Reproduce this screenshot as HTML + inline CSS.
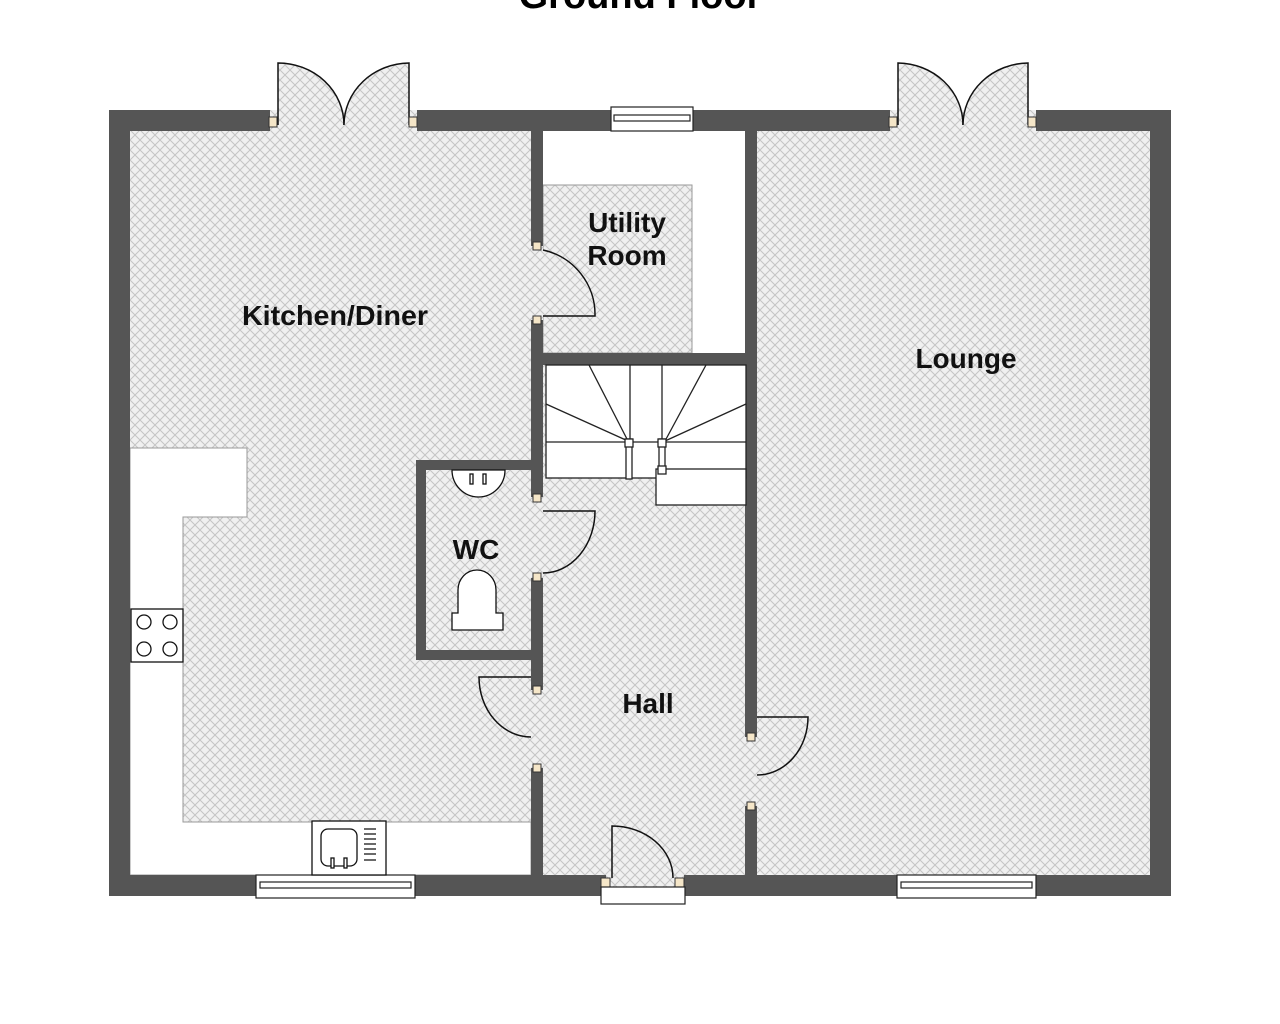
<!DOCTYPE html>
<html><head><style>html,body{margin:0;padding:0;background:#fff}svg{display:block}</style></head>
<body>
<svg width="1280" height="1024" viewBox="0 0 1280 1024" xmlns="http://www.w3.org/2000/svg" font-family="Liberation Sans, Arial, sans-serif">
<defs>
<pattern id="h" width="10" height="10" patternUnits="userSpaceOnUse">
<rect width="10" height="10" fill="#f0f0f0"/>
<path d="M0,0L10,10M10,0L0,10" stroke="#c4c4c4" stroke-width="1"/>
</pattern>
</defs>
<rect width="1280" height="1024" fill="#fff"/>
<text x="640" y="8" text-anchor="middle" font-size="38" font-weight="bold">Ground Floor</text>

<!-- floors -->
<rect x="130" y="131" width="401" height="744" fill="url(#h)"/>
<rect x="757" y="131" width="393" height="744" fill="url(#h)"/>
<rect x="543" y="365" width="202" height="510" fill="url(#h)"/>
<rect x="543" y="185" width="149" height="168" fill="url(#h)" stroke="#999" stroke-width="1"/>
<path d="M130,448H247V517H183V822H531V875H130Z" fill="#fff" stroke="#999" stroke-width="1"/>
<!-- walls -->
<g fill="#555">
<rect x="109" y="110" width="161" height="21"/>
<rect x="417" y="110" width="473" height="21"/>
<rect x="1036" y="110" width="135" height="21"/>
<rect x="109" y="110" width="21" height="786"/>
<rect x="1150" y="110" width="21" height="786"/>
<rect x="109" y="875" width="497" height="21"/>
<rect x="684" y="875" width="487" height="21"/>
<rect x="531" y="131" width="12" height="115"/>
<rect x="531" y="320" width="12" height="177"/>
<rect x="531" y="578" width="12" height="112"/>
<rect x="531" y="768" width="12" height="107"/>
<rect x="745" y="131" width="12" height="606"/>
<rect x="745" y="806" width="12" height="69"/>
<rect x="543" y="353" width="202" height="12"/>
<rect x="416" y="460" width="115" height="10"/>
<rect x="416" y="460" width="10" height="200"/>
<rect x="416" y="650" width="115" height="10"/>
</g>
<rect x="426" y="470" width="105" height="180" fill="url(#h)"/>
<!-- openings -->
<g fill="url(#h)">
<rect x="270" y="110" width="147" height="21"/>
<rect x="890" y="110" width="146" height="21"/>
<rect x="531" y="246" width="12" height="74"/>
<rect x="531" y="497" width="12" height="81"/>
<rect x="531" y="690" width="12" height="78"/>
<rect x="745" y="737" width="12" height="69"/>
<rect x="606" y="875" width="78" height="12"/>
</g>

<!-- stairs -->
<g fill="#fff" stroke="#222" stroke-width="1.3">
<rect x="546" y="365" width="200" height="113"/>
<rect x="656" y="469" width="90" height="36"/>
<line x1="630" y1="365" x2="630" y2="442"/>
<line x1="662" y1="365" x2="662" y2="442"/>
<line x1="589" y1="365" x2="628" y2="441"/>
<line x1="546" y1="404" x2="628" y2="441"/>
<line x1="706" y1="365" x2="665" y2="441"/>
<line x1="746" y1="404" x2="665" y2="441"/>
<line x1="546" y1="442" x2="746" y2="442"/>
<rect x="626" y="439" width="6" height="40" fill="#fff"/>
<rect x="659" y="439" width="6" height="32" fill="#fff"/>
<rect x="625" y="439" width="8" height="8"/>
<rect x="658" y="439" width="8" height="8"/>
<rect x="658" y="466" width="8" height="8"/>
</g>

<!-- doors -->
<g fill="url(#h)" stroke="#111" stroke-width="1.5">
<path d="M543,250 A66,66 0 0 1 595,316 L543,316"/>
<path d="M543,511 L595,511 A52,62 0 0 1 543,573"/>
<path d="M531,677 L479,677 A52,60 0 0 0 531,737"/>
<path d="M757,717 L808,717 A51,58 0 0 1 757,775"/>
<path d="M612,878 L612,826 A61,52 0 0 1 673,878"/>
<path d="M278,125 L278,63 A66,62 0 0 1 344,125"/>
<path d="M409,125 L409,63 A66,62 0 0 0 344,125"/>
<path d="M898,125 L898,63 A66,62 0 0 1 963,125"/>
<path d="M1028,125 L1028,63 A66,62 0 0 0 963,125"/>
</g>
<g fill="#f5e6c8" stroke="#333" stroke-width="1">
<rect x="269" y="117" width="8" height="10"/><rect x="409" y="117" width="8" height="10"/>
<rect x="889" y="117" width="8" height="10"/><rect x="1028" y="117" width="8" height="10"/>
<rect x="533" y="242" width="8" height="8"/><rect x="533" y="316" width="8" height="8"/>
<rect x="533" y="494" width="8" height="8"/><rect x="533" y="573" width="8" height="8"/>
<rect x="533" y="686" width="8" height="8"/><rect x="533" y="764" width="8" height="8"/>
<rect x="747" y="733" width="8" height="8"/><rect x="747" y="802" width="8" height="8"/>
<rect x="601" y="878" width="9" height="9"/><rect x="675" y="878" width="9" height="9"/>
</g>

<!-- windows -->
<g fill="#fff" stroke="#222" stroke-width="1.2">
<rect x="611" y="107" width="82" height="24"/><rect x="614" y="115" width="76" height="6"/>
<rect x="256" y="875" width="159" height="23"/><rect x="260" y="882" width="151" height="6"/>
<rect x="897" y="875" width="139" height="23"/><rect x="901" y="882" width="131" height="6"/>
<rect x="601" y="887" width="84" height="17"/>
</g>

<g fill="#fff" stroke="#111" stroke-width="1.3">
<rect x="131" y="609" width="52" height="53"/>
<circle cx="144" cy="622" r="7"/><circle cx="170" cy="622" r="7"/>
<circle cx="144" cy="649" r="7"/><circle cx="170" cy="649" r="7"/>
<rect x="312" y="821" width="74" height="54"/>
<rect x="321" y="829" width="36" height="37" rx="7"/>
<path d="M364,829H376M364,834H376M364,839H376M364,844H376M364,849H376M364,854H376M364,860H376" />
<rect x="331" y="858" width="3" height="10"/><rect x="344" y="858" width="3" height="10"/>
<path d="M452,470 H505 A26.5,27 0 0 1 452,470 Z"/>
<rect x="470" y="474" width="3" height="10"/><rect x="483" y="474" width="3" height="10"/>
<path d="M452,630 V613 H458 V590 A19,20 0 0 1 496,590 V613 H503 V630 Z"/>
</g>

<g font-weight="bold" font-size="28" text-anchor="middle" fill="#111">
<text x="335" y="325" textLength="186" lengthAdjust="spacingAndGlyphs">Kitchen/Diner</text>
<text x="627" y="232">Utility</text>
<text x="627" y="265">Room</text>
<text x="966" y="368">Lounge</text>
<text x="476" y="559">WC</text>
<text x="648" y="713">Hall</text>
</g>
</svg>
</body></html>
